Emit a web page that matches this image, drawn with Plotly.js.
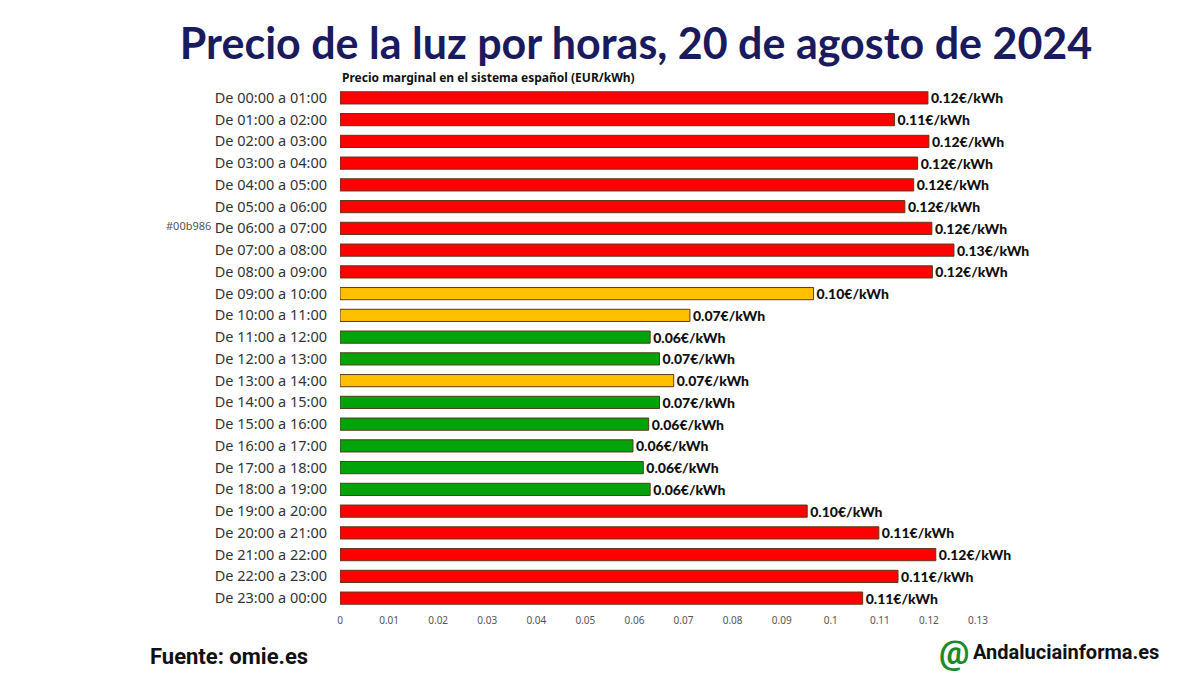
<!DOCTYPE html>
<html>
<head>
<meta charset="utf-8">
<script src="https://cdn.plot.ly/plotly-3.0.1.min.js"></script>
<style>
html,body{margin:0;padding:0;background:#fff;}
#chart{width:1200px;height:675px;}
</style>
</head>
<body>
<div id="chart"></div>
<script>
// ---- data ----
const hours = [
  "De 00:00 a 01:00","De 01:00 a 02:00","De 02:00 a 03:00","De 03:00 a 04:00",
  "De 04:00 a 05:00","De 05:00 a 06:00","De 06:00 a 07:00","De 07:00 a 08:00",
  "De 08:00 a 09:00","De 09:00 a 10:00","De 10:00 a 11:00","De 11:00 a 12:00",
  "De 12:00 a 13:00","De 13:00 a 14:00","De 14:00 a 15:00","De 15:00 a 16:00",
  "De 16:00 a 17:00","De 17:00 a 18:00","De 18:00 a 19:00","De 19:00 a 20:00",
  "De 20:00 a 21:00","De 21:00 a 22:00","De 22:00 a 23:00","De 23:00 a 00:00"
];
const prices = [
  0.1198, 0.1130, 0.1200, 0.1177, 0.1169, 0.1151, 0.1206, 0.1251,
  0.1207, 0.0965, 0.0713, 0.0632, 0.0651, 0.0680, 0.0651, 0.0629,
  0.0597, 0.0618, 0.0632, 0.0952, 0.1098, 0.1214, 0.1137, 0.1065
];
const tiers = [
  "alto","alto","alto","alto","alto","alto","alto","alto",
  "alto","medio","medio","bajo","bajo","medio","bajo","bajo",
  "bajo","bajo","bajo","alto","alto","alto","alto","alto"
];
const xTickVals = [0,0.01,0.02,0.03,0.04,0.05,0.06,0.07,0.08,0.09,0.1,0.11,0.12,0.13];
const xTickText = ["0","0.01","0.02","0.03","0.04","0.05","0.06","0.07","0.08","0.09","0.1","0.11","0.12","0.13"];
const titleText = "Precio de la luz por horas, 20 de agosto de 2024";
const subtitleText = "Precio marginal en el sistema español (EUR/kWh)";
const sourceText = "Fuente: omie.es";
const brandText = "Andaluciainforma.es";

// ---- styles ----
const tierColors = {alto:"#FF0000", medio:"#FFC000", bajo:"#00A30A"};
const barColors = tiers.map(t => tierColors[t]);
const labels = prices.map(v => v.toFixed(2) + "€/kWh");

const trace = {
  type: "bar",
  orientation: "h",
  x: prices,
  y: hours,
  text: labels,
  textposition: "outside",
  constraintext: "none",
  cliponaxis: false,
  textfont: {family: "Lato, 'Noto Sans', sans-serif", size: 14, color: "#111", weight: 900},
  marker: {color: barColors, line: {color: "#5a3a1a", width: 1}},
  width: 0.56,
  hoverinfo: "skip"
};

const plotH = 675 - 87 - 66;
const plotW = 1200 - 340 - 222;
const px = v => (v - 340) / plotW;
const py = v => (675 - 66 - v) / plotH;

const layout = {
  width: 1200, height: 675,
  paper_bgcolor: "#fff", plot_bgcolor: "#fff",
  margin: {l: 340, r: 222, t: 87, b: 66},
  showlegend: false,
  title: {
    text: "<b>" + titleText + "</b>",
    x: 0.53, xanchor: "center", y: 0.935, yanchor: "middle",
    font: {family: "Lato, 'Noto Sans', sans-serif", size: 43, color: "#1a1a5e", weight: 900}
  },
  xaxis: {
    range: [0, 0.13],
    tickvals: xTickVals, ticktext: xTickText,
    showgrid: false, zeroline: false, showline: false, ticks: "",
    tickfont: {family: "'Noto Sans', sans-serif", size: 10, color: "#555"},
    ticklabelstandoff: 4
  },
  yaxis: {
    type: "category",
    autorange: "reversed",
    showgrid: false, zeroline: false, showline: false, ticks: "",
    tickfont: {family: "'Noto Sans', sans-serif", size: 14.5, color: "#333"},
    ticklabelstandoff: 12
  },
  annotations: [
    {text: "<b>" + subtitleText + "</b>", xref: "paper", yref: "paper", x: 0, y: 1, xanchor: "left", yanchor: "bottom", yshift: -1, showarrow: false,
     font: {family: "'Noto Sans', sans-serif", size: 12, color: "#111"}},
    {text: "#00b986", xref: "paper", yref: "y", x: 0, y: hours[6], xanchor: "right", yanchor: "middle", xshift: -127, yshift: 3, showarrow: false,
     font: {family: "'Noto Sans', sans-serif", size: 11, color: "#555"}},
    {text: "<b>" + sourceText + "</b>", xref: "paper", yref: "paper", x: px(148), y: py(657), xanchor: "left", yanchor: "middle", showarrow: false,
     font: {family: "Roboto, sans-serif", size: 22, color: "#111"}},
    {text: "<b>@</b>", xref: "paper", yref: "paper", x: px(954), y: py(652), xanchor: "center", yanchor: "middle", showarrow: false,
     font: {family: "Roboto, sans-serif", size: 34, color: "#1a8a2a"}},
    {text: "<b>" + brandText + "</b>", xref: "paper", yref: "paper", x: px(971), y: py(652), xanchor: "left", yanchor: "middle", showarrow: false,
     font: {family: "Roboto, sans-serif", size: 20, color: "#111"}}
  ]
};

Plotly.newPlot("chart", [trace], layout, {displayModeBar: false, staticPlot: true});
</script>
</body>
</html>
